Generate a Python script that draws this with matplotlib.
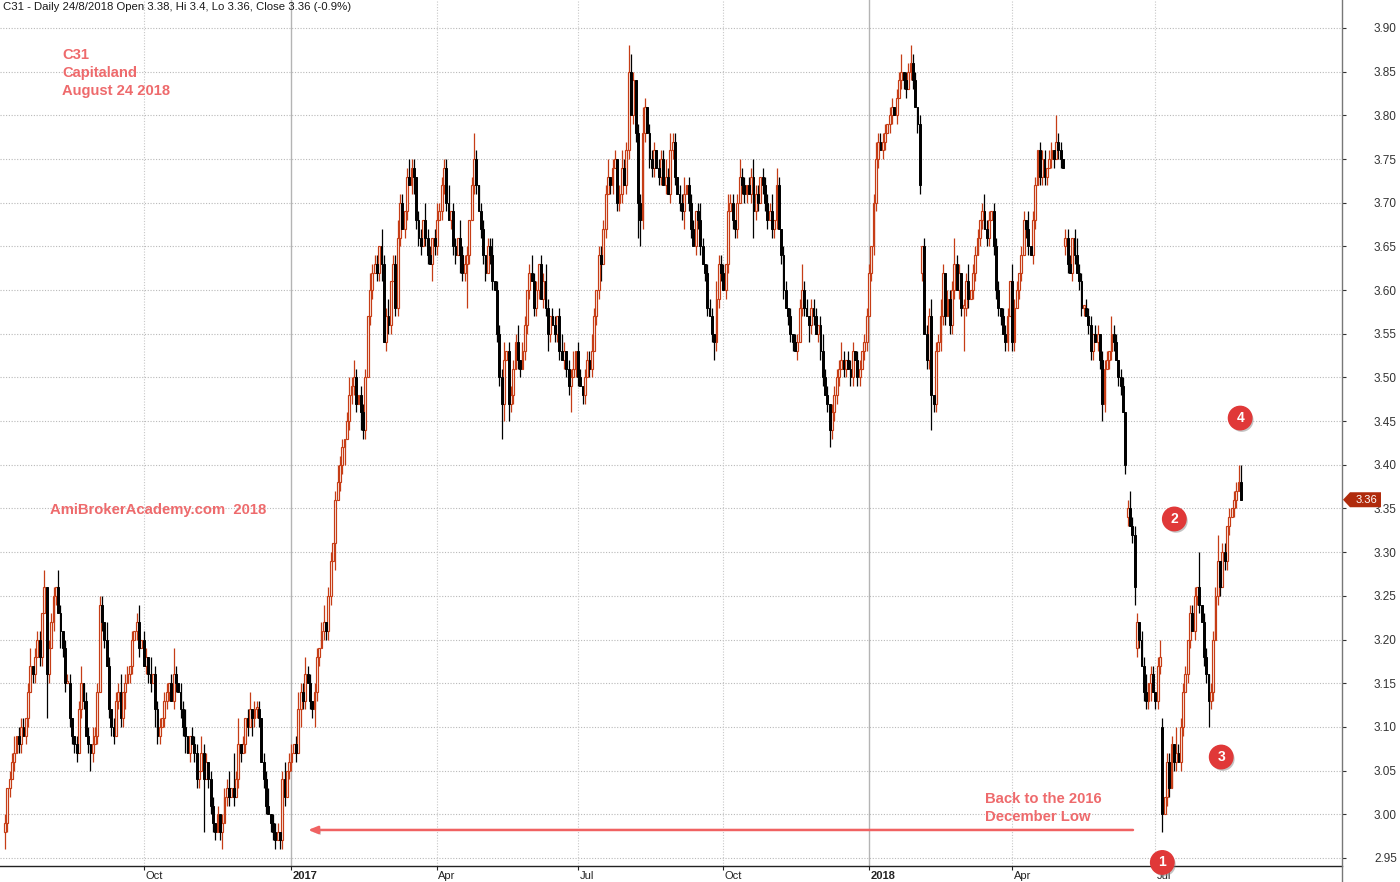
import numpy as np
import pandas as pd
import matplotlib
matplotlib.use("Agg")
import matplotlib.pyplot as plt
from matplotlib.patches import Polygon
from matplotlib.lines import Line2D
import matplotlib.patheffects as pe
import matplotlib.transforms as mtransforms

plt.rcParams['font.family'] = ['Liberation Sans', 'DejaVu Sans']

# ---------------- data (prices in cents) ----------------
# daily closes, Jul 2016 - Dec 2016 / Jan 2017
close_a = [299, 303, 304, 306, 307, 309, 308, 310, 309, 311,
           314, 317, 316, 318, 320, 318, 323, 326, 316, 319,
           322, 325, 326, 323, 321, 319, 315, 315, 311, 309,
           308, 307, 312, 315, 313, 309, 308, 307, 308, 309,
           314, 324, 322, 320, 317, 312, 310, 309, 313, 314,
           311, 314, 315, 316, 317, 320, 321, 322, 319, 320,
           317, 318, 316, 315, 316, 312, 309, 310, 311, 313,
           314, 315, 313, 316, 315, 314, 312, 310, 309, 307,
           309, 308, 307, 304, 305, 307, 304, 306, 304, 301,
           299, 298, 300, 298, 299, 302, 303, 302, 303, 302,
           304, 308, 307, 308, 311, 310, 312, 311, 312, 312,
           311, 306, 304, 301, 300, 299, 298, 297, 298, 297,
           304, 302, 305, 306, 307, 308, 307, 312, 314, 313]
# Jan 2017 - Jul 2017
close_b = [316, 315, 313, 312, 314, 318, 319, 321, 322, 321,
           325, 329, 331, 336, 338, 340, 342, 343, 345, 348,
           349, 350, 347, 348, 346, 344, 350, 357, 360, 362,
           363, 362, 365, 363, 354, 357, 356, 361, 363, 358,
           366, 370, 367, 369, 373, 372, 374, 373, 368, 366,
           365, 368, 366, 364, 363, 366, 365, 368, 369, 372,
           374, 370, 368, 369, 365, 364, 366, 364, 362, 363,
           364, 368, 372, 375, 372, 369, 367, 364, 362, 365,
           364, 361, 360, 355, 350, 347, 352, 353, 347, 348,
           351, 354, 352, 351, 353, 356, 360, 362, 361, 358,
           360, 363, 359, 361, 358, 355, 357, 356, 355, 357,
           353, 352, 353, 351, 349, 350, 351, 353, 350, 349,
           348, 350, 352, 351, 353, 357, 360, 364, 363, 367]
# Jul 2017 - Jan 2018
close_c = [371, 373, 372, 374, 375, 370, 371, 374, 372, 376,
           385, 380, 384, 378, 370, 368, 378, 381, 378, 375,
           374, 376, 374, 373, 375, 372, 373, 371, 376, 377,
           373, 371, 370, 369, 371, 372, 370, 367, 365, 369,
           368, 365, 363, 362, 358, 357, 355, 354, 359, 363,
           362, 360, 363, 369, 370, 368, 367, 370, 373, 372,
           371, 372, 371, 373, 369, 371, 370, 373, 372, 370,
           368, 369, 367, 368, 372, 367, 364, 360, 358, 357,
           355, 354, 353, 354, 358, 360, 358, 357, 356, 358,
           357, 355, 356, 353, 350, 348, 347, 344, 346, 348,
           350, 351, 352, 351, 352, 351, 350, 353, 352, 350,
           351, 353, 354, 357, 362, 365, 370, 375, 377, 376,
           377, 378, 379, 380, 381, 380, 382, 384, 385, 384]
# Jan 2018 - 24 Aug 2018
close_d = [383, 385, 386, 384, 381, 379, 372, 365, 355, 352,
           357, 348, 347, 353, 354, 357, 362, 357, 359, 356,
           360, 363, 360, 362, 358, 358, 361, 359, 360, 362,
           364, 366, 368, 369, 367, 366, 368, 369, 365, 360,
           358, 357, 355, 354, 357, 361, 354, 358, 360, 362,
           364, 368, 367, 365, 364, 368, 372, 376, 373, 375,
           373, 374, 375, 376, 375, 377, 376, 375, 374, 366,
           363, 362, 366, 364, 362, 361, 358, 358, 357, 356,
           353, 355, 354, 355, 352, 347, 351, 352, 353, 355,
           354, 352, 350, 349, 346, 340, 335, 333, 332, 326,
           322, 320, 317, 314, 313, 315, 316, 314, 313, 317,
           318, 300, 302, 306, 303, 308, 306, 307, 306, 310,
           314, 316, 320, 323, 321, 325, 326, 324, 322, 318,
           316, 313, 314, 320, 325, 329, 326, 330, 329, 333,
           334, 335, 336, 337, 338, 336]

first_open = 298
# opening prices on gap days (bar number -> open, cents)
gap_open = {397: 362, 459: 365, 486: 334, 490: 319, 501: 310}

# wick lengths above / below the body, cents, one digit per bar
upper_wick = ("1011201110 1201110201 1102101110 0112011021 1110210111 2011010120 "
              "1102011101 1013101120 0111021101 1010111204 1301012011 1011201110 "
              "1201101211 2110110120 1101211012 1210111021 1102112011 2110121101 "
              "1021101211 1120110211 1013101101 1201112011 1120110121 1011210110 "
              "1210112011 0111210111 1201101211 3210113101 1101112121 1011201110 "
              "1210111021 1102110121 1011211011 1120210110 1011131101 1101211011 "
              "1121011101 1011101211 1101101120 1121101011 1201121011 1311011201 "
              "1101211011 1011102110 1102011011 1011031101 1101211011 1011011102 "
              "1101101211 1011201101 2101110311 1101110401 1011130110 101122")
lower_wick = ("2110101101 1011011051 0110211011 1101101210 1011011101 1120110110 "
              "0111021101 1101101120 1011106011 1101201101 0110110211 1011011101 "
              "1101101021 1011211011 1103011201 1110211011 0112011101 1101101211 "
              "1011021101 1101110211 5101101110 1101142021 1011011101 1101121011 "
              "1011130110 1101101120 1011011101 1011431101 1101101011 1011201101 "
              "1101101211 1011011101 1101311011 1011101101 1101011021 1011101211 "
              "1101101101 1011011110 1101101011 1011011101 1411011101 1101151101 "
              "1011011011 1101101101 1011011011 1101101101 1011011101 1101121011 "
              "1011011012 1101112011 1201101101 1011011101 1311011011 101100")

sgx_holidays = ['2016-07-06', '2016-08-09', '2016-09-12', '2016-12-26',
                '2017-01-02', '2017-01-30', '2017-04-14', '2017-05-01', '2017-05-10',
                '2017-06-26', '2017-08-09', '2017-09-01', '2017-10-18', '2017-12-25',
                '2018-01-01', '2018-02-16', '2018-03-30', '2018-05-01', '2018-05-29',
                '2018-06-15', '2018-08-09', '2018-08-22']

title = "C31 - Daily 24/8/2018 Open 3.38, Hi 3.4, Lo 3.36, Close 3.36 (-0.9%)"
info_lines = ["C31", "Capitaland", "August 24 2018"]
watermark = "AmiBrokerAcademy.com  2018"
note_lines = ["Back to the 2016", "December Low"]
last_price_label = "3.36"

# ---------------- build OHLC ----------------
close = np.array(close_a + close_b + close_c + close_d, dtype=float) / 100.0
uw = np.array([int(ch) for ch in upper_wick.replace(" ", "")], dtype=float) / 100.0
lw = np.array([int(ch) for ch in lower_wick.replace(" ", "")], dtype=float) / 100.0
n = min(len(close), len(uw), len(lw))
close, uw, lw = close[:n], uw[:n], lw[:n]
opn = np.concatenate([[first_open / 100.0], close[:-1]])
for k, v in gap_open.items():
    if k < n:
        opn[k] = v / 100.0
high = np.maximum(opn, close) + uw
low = np.minimum(opn, close) - lw

days = pd.bdate_range('2016-05-01', '2018-08-24')
days = days[~days.isin(pd.to_datetime(sgx_holidays))]
dates = days[-n:]

x = np.arange(n)

# ---------------- figure ----------------
W, H = 1400, 882
fig = plt.figure(figsize=(W / 100, H / 100), dpi=100)
fig.patch.set_facecolor('white')
ax_left, ax_right, ax_bot, ax_top = 0, 1342, 866, 0
ax = fig.add_axes([ax_left / W, (H - ax_bot) / H, (ax_right - ax_left) / W, (ax_bot - ax_top) / H])

px_per_bar = 2.31
x0_px = 5
ax.set_xlim(-x0_px / px_per_bar, (ax_right - x0_px) / px_per_bar)
ylo = 3.90 - (866 - 28) * 0.05 / 43.68
yhi = 3.90 + 28 * 0.05 / 43.68
ax.set_ylim(ylo, yhi)

RED = '#C63D16'
up = close >= opn
bottom = np.minimum(opn, close)
height = np.maximum(np.abs(close - opn), 0.0025)

ax.vlines(x[up], low[up], high[up], color=RED, lw=0.9, zorder=2)
ax.vlines(x[~up], low[~up], high[~up], color='black', lw=0.9, zorder=2)
ax.bar(x[up], height[up], bottom=bottom[up], width=0.8, facecolor='#fff4f0',
       edgecolor=RED, linewidth=0.85, zorder=3)
ax.bar(x[~up], height[~up], bottom=bottom[~up], width=0.8, facecolor='black',
       edgecolor='black', linewidth=0.7, zorder=3)

# horizontal grid
yticks = np.round(np.arange(2.95, 3.9001, 0.05), 2)
for yv in yticks:
    ax.axhline(yv, color='#b9b9b9', lw=0.8, ls=(0, (1, 1.5)), zorder=0)

# quarter ticks / vertical grid
tick_pos, tick_lab, tick_year = [], [], []
for i in range(1, n):
    if dates[i].month != dates[i - 1].month and dates[i].month in (1, 4, 7, 10):
        tick_pos.append(i)
        if dates[i].month == 1:
            tick_lab.append(str(dates[i].year))
            tick_year.append(True)
        else:
            tick_lab.append(dates[i].strftime('%b'))
            tick_year.append(False)
for p, isy in zip(tick_pos, tick_year):
    if isy:
        ax.axvline(p, color='#b4b4b4', lw=1.0, zorder=0)
    else:
        ax.axvline(p, color='#c8c8c8', lw=0.8, ls=(0, (1, 1.5)), zorder=0)

ax.set_xticks(tick_pos)
ax.set_xticklabels(tick_lab)
ax.tick_params(axis='x', direction='out', length=3, width=0.8, pad=0.5, labelsize=8,
               colors='#222222')
offset = mtransforms.ScaledTranslation(1.5 / 100, 0, fig.dpi_scale_trans)
for lab, isy in zip(ax.get_xticklabels(), tick_year):
    lab.set_horizontalalignment('left')
    lab.set_transform(lab.get_transform() + offset)
    if isy:
        lab.set_fontweight('bold')

ax.yaxis.tick_right()
ax.set_yticks(yticks)
ax.set_yticklabels([f"{v:.2f}" for v in yticks])
ax.tick_params(axis='y', direction='out', length=3, width=0.8, pad=20, labelsize=8.5,
               colors='#333333')

for s in ['top', 'left', 'right']:
    ax.spines[s].set_visible(False)
ax.spines['bottom'].set_color('#222222')
ax.spines['bottom'].set_linewidth(1.0)
fig.add_artist(Line2D([ax_right / W, ax_right / W], [0, 1], transform=fig.transFigure,
                      color='#777777', lw=1.0))

# ---------------- annotations ----------------
PINK = '#EE6A6C'
fig.text(3 / W, 1 - 7 / H, title, fontsize=8.2, color='#1a1a1a', va='center', ha='left')
for j, t in enumerate(info_lines):
    fig.text(62 / W, 1 - (55 + 18 * j) / H, t, fontsize=10.6, fontweight='bold',
             color=PINK, va='center', ha='left')
fig.text(50 / W, 1 - 510 / H, watermark, fontsize=10.7, fontweight='bold',
         color=PINK, va='center', ha='left')
for j, t in enumerate(note_lines):
    fig.text(985 / W, 1 - (799 + 18 * j) / H, t, fontsize=10.7, fontweight='bold',
             color=PINK, va='center', ha='left')

arrow_y = 2.982
ax.annotate('', xy=(131.2, arrow_y), xytext=(488.3, arrow_y),
            arrowprops=dict(arrowstyle='-|>,head_length=0.55,head_width=0.22',
                            color='#F06262', lw=1.8, shrinkA=0, shrinkB=0,
                            path_effects=[pe.SimplePatchShadow(offset=(1.2, -1.5),
                                                               shadow_rgbFace='#999999',
                                                               alpha=0.45),
                                          pe.Normal()]),
            zorder=4)

circles = [("1", 501.0, 2.9448), ("2", 506.2, 3.338), ("3", 526.5, 3.0655), ("4", 534.7, 3.4535)]
for lab, cx, cy in circles:
    ax.scatter([cx], [cy], s=285, color='#E03838', zorder=6, clip_on=False,
               path_effects=[pe.SimplePatchShadow(offset=(1.2, -1.5),
                                                  shadow_rgbFace='#888888', alpha=0.5),
                             pe.Normal()])
    ax.text(cx, cy, lab, color='white', fontsize=10, fontweight='bold',
            ha='center', va='center', zorder=7, clip_on=False)

# last price tag on the price axis
to_fig = ax.transData + fig.transFigure.inverted()
_, ty = to_fig.transform((0, close[-1]))
typ = (1 - ty) * H
pts_px = [(1343, typ), (1350, typ - 7.5), (1381, typ - 7.5), (1381, typ + 7.5), (1350, typ + 7.5)]
tag = Polygon([(px / W, 1 - py / H) for px, py in pts_px], closed=True,
              transform=fig.transFigure, facecolor='#B02B0C', edgecolor='none', zorder=10)
fig.add_artist(tag)
fig.text(1366 / W, 1 - typ / H, last_price_label, color='white', fontsize=8,
         ha='center', va='center', zorder=11)

fig.savefig('out.png', dpi=100, facecolor='white')
